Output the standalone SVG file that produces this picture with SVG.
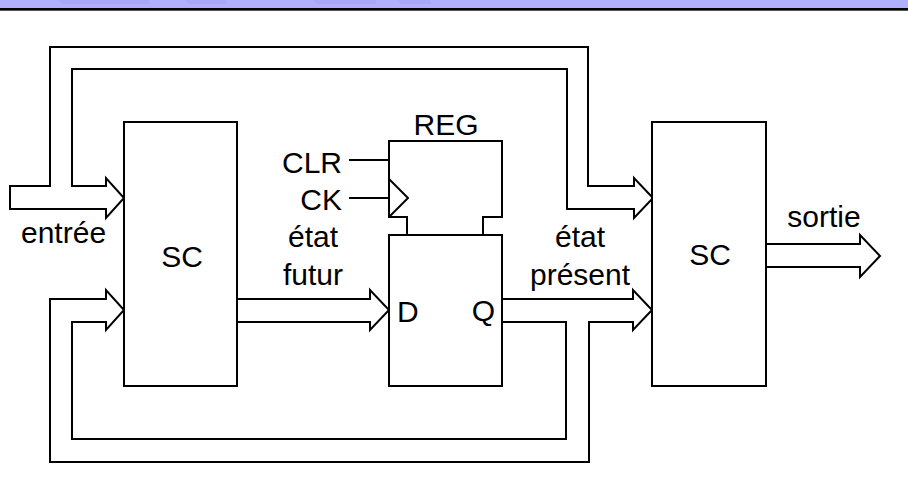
<svg xmlns="http://www.w3.org/2000/svg" width="908" height="496" viewBox="0 0 908 496">
<style>
.ln{fill:#fff;stroke:#000;stroke-width:2;stroke-linejoin:miter}
.op{fill:none;stroke:#000;stroke-width:2}
.t{font-family:"Liberation Sans",Arial,sans-serif;font-size:30px;fill:#000}
.m{text-anchor:middle}
.e{text-anchor:end}
</style>
<rect x="0" y="0" width="908" height="8" fill="#b0affd"/>
<g fill="#a9a8f6">
<polygon points="58,0 148,0 150,4 62,4"/>
<polygon points="185,0 225,0 227,4 189,4"/>
<polygon points="313,0 375,0 377,4 317,4"/>
<polygon points="397,0 430,0 432,4 401,4"/>
</g>
<rect x="0" y="8" width="908" height="2" fill="#000"/>
<rect x="0" y="10" width="908" height="1" fill="#555"/>
<g id="connectors">
<polygon class="ln" points="10,186 50,186 50,47 588,47 588,186 634,186 634,178 653,198 634,218 634,209 567,209 567,69 72,69 72,186 106,186 106,178 124,198 106,218 106,209 10,209"/>
<polygon class="ln" points="502,299 633,299 633,290 652,310 633,330 633,322 589,322 589,462 50,462 50,299 106,299 106,290 124,310 106,330 106,322 72,322 72,439 566,439 566,322 502,322"/>
<polygon class="ln" points="237,299 370,299 370,290 389,310 370,330 370,322 237,322"/>
<polygon class="ln" points="766,244 860,244 860,235 880,256 860,277 860,267 766,267"/>
<path class="op" d="M349,160 H389 M349,198 H389"/>
</g>
<g id="sc1">
<rect class="ln" x="124" y="122" width="113" height="264"/>
<text class="t m" x="182" y="267">SC</text>
</g>
<g id="reg">
<path class="op" d="M407,235 V217 H389 V141 H502 V217 H483 V235"/>
<rect class="ln" x="389" y="235" width="113" height="151"/>
<path class="op" d="M389,179 L408,198 L389,217"/>
<text class="t m" x="446" y="135">REG</text>
<text class="t" x="397" y="322">D</text>
<text class="t e" x="495" y="321">Q</text>
</g>
<g id="sc2">
<rect class="ln" x="652" y="122" width="114" height="264"/>
<text class="t m" x="710" y="265">SC</text>
</g>
<g id="labels">
<text class="t e" x="342" y="173">CLR</text>
<text class="t e" x="342" y="210">CK</text>
<text class="t" x="21" y="243">entrée</text>
<text class="t m" x="313" y="247">état</text>
<text class="t m" x="313" y="285">futur</text>
<text class="t m" x="580" y="247">état</text>
<text class="t m" x="580" y="285">présent</text>
<text class="t m" x="824" y="227">sortie</text>
</g>
</svg>
